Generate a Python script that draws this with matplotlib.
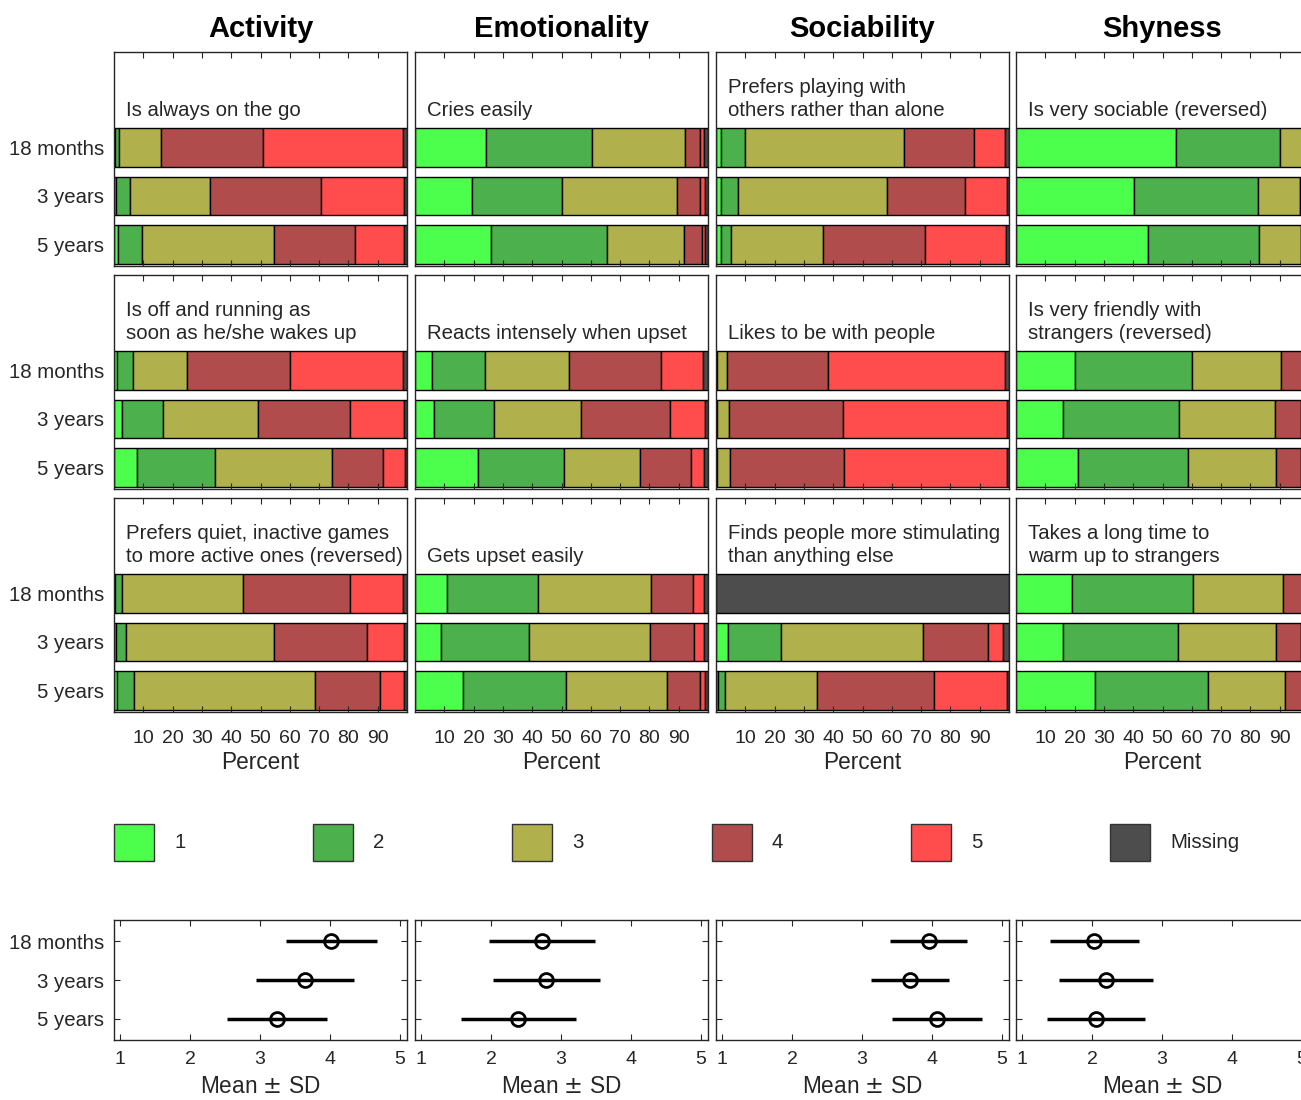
import matplotlib
matplotlib.use("Agg")
import matplotlib.pyplot as plt
from matplotlib.patches import Rectangle
import numpy as np

plt.rcParams['font.family'] = ['Liberation Sans', 'DejaVu Sans']

# ---------------- data ----------------
domains = ["Activity", "Emotionality", "Sociability", "Shyness"]
ages = ["18 months", "3 years", "5 years"]
categories = ["1", "2", "3", "4", "5", "Missing"]
colors = ["#4dff4d", "#4cb04c", "#b0b04c", "#b04c4c", "#ff4d4d", "#4d4d4d"]

items = [
    ["Is always on the go", "Cries easily",
     "Prefers playing with\nothers rather than alone", "Is very sociable (reversed)"],
    ["Is off and running as\nsoon as he/she wakes up", "Reacts intensely when upset",
     "Likes to be with people", "Is very friendly with\nstrangers (reversed)"],
    ["Prefers quiet, inactive games\nto more active ones (reversed)", "Gets upset easily",
     "Finds people more stimulating\nthan anything else", "Takes a long time to\nwarm up to strangers"],
]

# percent per category [1,2,3,4,5,Missing] for 18 months, 3 years, 5 years
activity_go = [[0.3, 1.4, 14.5, 34.7, 47.9, 1.2],
               [0.6, 4.8, 27.3, 38.0, 28.2, 1.1],
               [1.5, 8.2, 44.9, 27.7, 16.8, 0.9]]
activity_running = [[1.1, 5.4, 18.3, 35.2, 38.6, 1.4],
                    [2.8, 14.0, 32.4, 31.5, 18.4, 0.9],
                    [7.7, 26.9, 39.9, 17.3, 7.4, 0.8]]
activity_quiet = [[0.4, 2.4, 41.3, 36.3, 18.2, 1.4],
                  [0.8, 3.4, 50.3, 31.8, 12.8, 0.9],
                  [0.9, 6.0, 61.8, 22.0, 8.4, 0.9]]
emotion_cries = [[24.4, 36.1, 31.8, 4.9, 1.4, 1.4],
                 [19.6, 30.6, 39.2, 7.8, 1.7, 1.1],
                 [26.1, 39.5, 26.2, 6.2, 0.9, 1.1]]
emotion_intense = [[5.7, 18.1, 28.7, 31.6, 14.2, 1.7],
                   [6.6, 20.3, 29.6, 30.4, 12.0, 1.1],
                   [21.5, 29.3, 25.9, 17.6, 4.3, 1.4]]
emotion_upset = [[11.0, 31.1, 38.5, 14.3, 3.6, 1.5],
                 [8.8, 30.1, 41.3, 15.0, 3.4, 1.4],
                 [16.5, 35.2, 34.3, 11.1, 1.8, 1.1]]
social_playing = [[1.6, 8.3, 54.4, 23.6, 10.6, 1.5],
                  [1.6, 5.9, 50.7, 26.8, 14.2, 0.8],
                  [1.6, 3.6, 31.3, 34.8, 27.8, 0.9]]
social_people = [[0.0, 0.2, 3.5, 34.4, 60.5, 1.4],
                 [0.2, 0.3, 4.1, 38.7, 55.9, 0.8],
                 [0.2, 0.3, 4.4, 38.9, 55.5, 0.7]]
social_stimulating = [[0.0, 0.0, 0.0, 0.0, 0.0, 100.0],
                      [4.0, 18.1, 48.4, 22.4, 5.1, 2.0],
                      [0.6, 2.5, 31.4, 40.0, 24.7, 0.8]]
shy_sociable = [[54.5, 35.5, 7.5, 1.0, 0.5, 1.0],
                [40.4, 42.3, 14.3, 1.5, 0.5, 1.0],
                [45.0, 38.1, 14.0, 1.5, 0.4, 1.0]]
shy_friendly = [[20.0, 40.0, 30.3, 7.5, 1.2, 1.0],
                [15.9, 39.7, 32.8, 9.0, 1.6, 1.0],
                [21.1, 37.5, 30.2, 8.5, 1.7, 1.0]]
shy_warm = [[19.0, 41.3, 30.7, 7.0, 1.0, 1.0],
            [16.1, 39.2, 33.6, 8.5, 1.6, 1.0],
            [26.8, 38.7, 26.2, 6.5, 0.8, 1.0]]

panel_data = [
    [activity_go, emotion_cries, social_playing, shy_sociable],
    [activity_running, emotion_intense, social_people, shy_friendly],
    [activity_quiet, emotion_upset, social_stimulating, shy_warm],
]

# mean and SD per domain, for 18 months, 3 years, 5 years
means = [[4.02, 3.64, 3.24],
         [2.73, 2.79, 2.39],
         [3.95, 3.68, 4.07],
         [2.03, 2.20, 2.06]]
sds = [[0.65, 0.70, 0.71],
       [0.755, 0.76, 0.82],
       [0.55, 0.56, 0.64],
       [0.64, 0.67, 0.70]]

pct_ticks = [10, 20, 30, 40, 50, 60, 70, 80, 90]
mean_ticks = [1, 2, 3, 4, 5]

# ---------------- layout ----------------
W, H = 1301, 1100
fig = plt.figure(figsize=(W / 100, H / 100), dpi=100)
TXT = "#262626"
FS_TICK = 14
FS_TXT = 14.7
FS_LAB = 16.3
col_left = [114, 415, 716, 1016]
pw = 293
row_top = [52, 275, 498]
ph = 214

def ax_at(x0, y0, w, h):
    return fig.add_axes([x0 / W, 1 - (y0 + h) / H, w / W, h / H])

ypos = np.arange(1, len(ages) + 1)

for r in range(3):
    for c in range(4):
        ax = ax_at(col_left[c], row_top[r], pw, ph)
        vals = np.array(panel_data[r][c])
        left = np.zeros(len(ages))
        for k in range(len(categories)):
            ax.barh(ypos, vals[:, k], left=left, height=0.8, color=colors[k],
                    edgecolor="black", linewidth=1.0)
            left = left + vals[:, k]
        ax.set_xlim(0, 100)
        ax.set_ylim(3.45, -0.98)
        ax.set_xticks(pct_ticks)
        ax.tick_params(axis="x", direction="in", top=True, bottom=True, length=4,
                       color=TXT, labelsize=FS_TICK, labelcolor=TXT, pad=13)
        ax.set_yticks(ypos)
        ax.tick_params(axis="y", length=0, labelsize=FS_TXT, labelcolor=TXT, pad=7)
        if c == 0:
            ax.set_yticklabels(ages)
        else:
            ax.set_yticklabels([])
        if r == 2:
            ax.set_xlabel("Percent", fontsize=FS_LAB, color=TXT, labelpad=3)
        else:
            ax.set_xticklabels([])
        for s in ax.spines.values():
            s.set_color(TXT)
            s.set_linewidth(1.0)
        ax.text(4.0, 0.43, items[r][c], fontsize=FS_TXT, color=TXT, ha="left",
                va="bottom", linespacing=1.3)
        if r == 0:
            ax.set_title(domains[c], fontsize=21, fontweight="bold", color="black", pad=10.5)

# ---------------- legend ----------------
lax = ax_at(114, 824, 6 * 199.2, 37)
lax.set_xlim(0, 6)
lax.set_ylim(0, 1)
lax.axis("off")
for i, (lab, col) in enumerate(zip(categories, colors)):
    lax.add_patch(Rectangle((i, 0.0), 40 / 199.2, 1.0, facecolor=col,
                            edgecolor="#333333", linewidth=1.0, clip_on=False))
    lax.text(i + 60 / 199.2, 0.5, lab, fontsize=FS_TXT, color=TXT, ha="left", va="center")

# ---------------- mean +/- SD ----------------
for c in range(4):
    ax = ax_at(col_left[c], 920, pw, 120)
    ax.errorbar(means[c], ypos, xerr=sds[c], fmt="o", color="black",
                ecolor="black", elinewidth=2.5, capsize=0, markersize=10,
                mfc="none", mec="black", mew=2.0)
    ax.set_xlim(0.91, 5.1)
    ax.set_ylim(3.54, 0.46)
    ax.set_xticks(mean_ticks)
    ax.set_yticks(ypos)
    ax.tick_params(axis="both", direction="in", top=True, bottom=True, left=True,
                   right=True, length=4, color=TXT, labelcolor=TXT)
    ax.tick_params(axis="x", pad=8, labelsize=FS_TICK)
    ax.tick_params(axis="y", pad=7, labelsize=FS_TXT)
    if c == 0:
        ax.set_yticklabels(ages)
    else:
        ax.set_yticklabels([])
    ax.set_xlabel("Mean $\\pm$ SD", fontsize=FS_LAB, color=TXT, labelpad=5)
    for s in ax.spines.values():
        s.set_color(TXT)
        s.set_linewidth(1.0)

fig.savefig("out.png", dpi=100)
